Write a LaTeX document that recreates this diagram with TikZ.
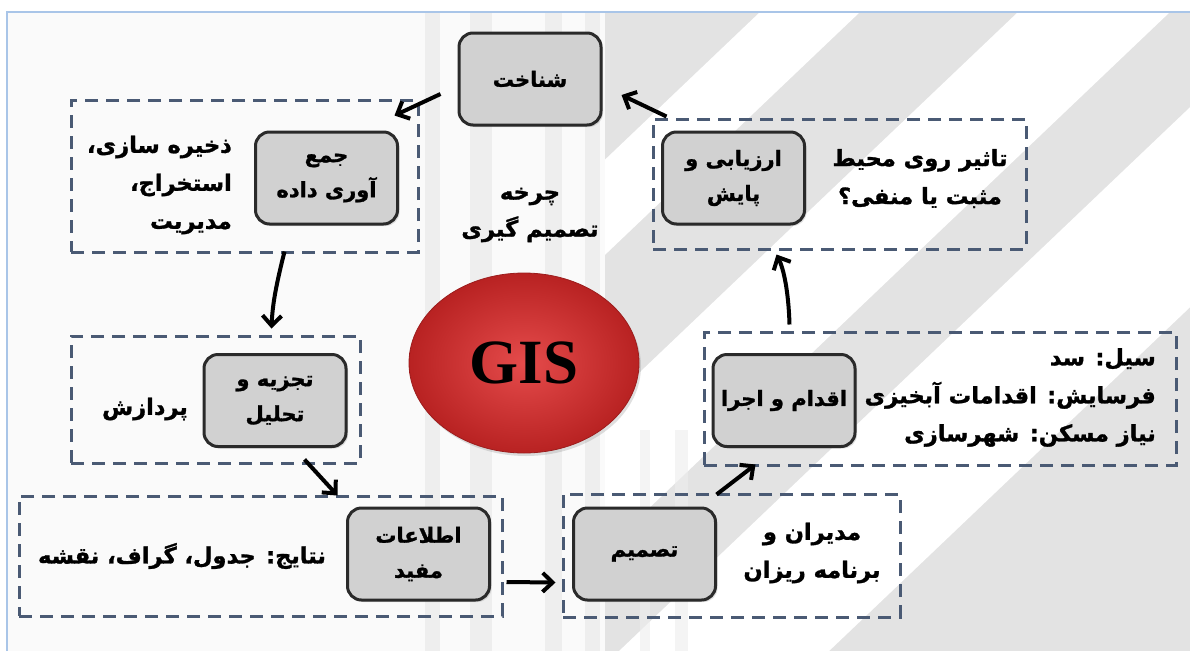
\documentclass[tikz,border=0pt]{standalone}
\usepackage{fontspec}
\usetikzlibrary{arrows.meta,calc,shadows,shapes.geometric}
\TeXXeTstate=1
\setmainfont{Liberation Serif}
\newfontfamily\arabicfont[Script=Arabic, BoldFeatures={FakeBold=1.3}]{DejaVu Sans}
\newcommand{\fa}[1]{{\arabicfont\bfseries\beginR #1\endR}}
\definecolor{dashc}{HTML}{4A5A74}
\definecolor{boxfill}{HTML}{D1D1D1}
\definecolor{boxdraw}{HTML}{2A2A2A}
\definecolor{framec}{HTML}{A9C5E8}
\definecolor{bggray}{HTML}{E3E3E3}
\definecolor{bgstripe}{HTML}{EEEEEE}
\definecolor{gisin}{HTML}{E54B4B}
\definecolor{gisout}{HTML}{B82222}
\tikzset{
  fbox/.style={draw=boxdraw, line width=3pt, fill=boxfill, rounded corners=14pt,
    minimum width=142pt, minimum height=92pt, inner sep=0pt, align=center,
    font=\fontsize{21}{35}\selectfont,
    drop shadow={opacity=0.25, shadow xshift=2pt, shadow yshift=-2pt}},
  dbox/.style={draw=dashc, line width=3pt, dash pattern=on 13pt off 8pt, inner sep=0pt},
  txt/.style={inner sep=0pt, font=\fontsize{22.5}{38}\selectfont},
  arr/.style={draw=black, line width=4pt, -{Straight Barb[length=10pt,width=19pt]}},
}
\begin{document}
\begin{tikzpicture}[x=1pt,y=-1pt]
\useasboundingbox (0,0) rectangle (1190,651);
% background
\fill[white] (0,0) rectangle (1190,651);
\fill[black!2] (7,12) rectangle (605,651);
\foreach \a/\b in {425/440,470/492,545/562,585/600}{\fill[bgstripe] (\a,12) rectangle (\b,651);}
\fill[bggray] (605,12) rectangle (1190,651);
\begin{scope}
  \clip (605,12) rectangle (1190,651);
  \foreach \a/\b in {760/860,1018/1170,1290/1500}{
    \fill[white] (\a,12) -- (\b,12) -- (\b-672,652) -- (\a-672,652) -- cycle;}
\end{scope}
\foreach \a/\b in {640/650,675/688}{\fill[bgstripe,opacity=0.6] (\a,430) rectangle (\b,651);}
\draw[framec, line width=1.5pt] (7,651) -- (7,12) -- (1190,12);
% dashed groups
\node[dbox, minimum width=347pt, minimum height=152pt] (D1) at (244.5,176) {};
\node[dbox, minimum width=373pt, minimum height=130pt] (D2) at (839.5,184) {};
\node[dbox, minimum width=289pt, minimum height=127pt] (D3) at (215.5,399.5) {};
\node[dbox, minimum width=483pt, minimum height=120pt] (D4) at (260.5,556) {};
\node[dbox, minimum width=337pt, minimum height=123pt] (D5) at (731.5,555.5) {};
\node[dbox, minimum width=472pt, minimum height=133pt] (D6) at (940,398.5) {};
% boxes
\node[fbox] (shen) at (530,79) {\fa{شناخت}};
\node[fbox] (jam) at (326.5,178) {\fa{جمع}\\\fa{آوری داده}};
\node[fbox] (arz) at (733.5,178) {\fa{ارزیابی و}\\\fa{پایش}};
\node[fbox] (taj) at (275,400.5) {\fa{تجزیه و}\\\fa{تحلیل}};
\node[fbox] (ett) at (418.5,554) {\fa{اطلاعات}\\\fa{مفید}};
\node[fbox] (tas) at (644.5,554) {\fa{تصمیم}};
\node[fbox] (eqd) at (784,400.5) {\fa{اقدام و اجرا}};
% GIS
\node[ellipse, draw=gisout!85!black, line width=0.8pt, inner color=gisin, outer color=gisout,
  minimum width=230pt, minimum height=180pt, inner sep=0pt,
  font=\fontsize{63}{63}\selectfont\bfseries,
  drop shadow={opacity=0.25, shadow xshift=2pt, shadow yshift=-3pt}] (gis) at (524,363) {GIS};
% texts
\node[txt, align=right, anchor=east] (t1) at (232,185) {\fa{ذخیره سازی،}\\\fa{استخراج،}\\\fa{مدیریت}};
\node[txt, align=center, font=\fontsize{22.5}{37}\selectfont] (t2) at (530,215) {\fa{چرخه}\\\fa{تصمیم گیری}};
\node[txt, align=center] (t3) at (920,178.5) {\fa{تاثیر روی محیط}\\\fa{مثبت یا منفی؟}};
\node[txt] (t4) at (145,409) {\fa{پردازش}};
\node[txt] (t5) at (182,556) {\fa{نتایج: جدول، گراف، نقشه}};
\node[txt, align=center] (t6) at (812,553) {\fa{مدیران و}\\\fa{برنامه ریزان}};
\node[txt, align=right, anchor=east] (t7) at (1156,397.5) {\fa{سیل: سد}\\\fa{فرسایش: اقدامات آبخیزی}\\\fa{نیاز مسکن: شهرسازی}};
% arrows
\draw[arr] ($(shen.west)+(-17,15)$) -- ($(D1.north east)+(-25,17)$);
\draw[arr] ($(D1.south)+(40,-2)$) .. controls ($(D1.south)+(32,30)$) and ($(D1.south)+(28,50)$) .. ($(D3.north)+(56,-6)$);
\draw[arr] ($(D3.south east)+(-57,-5)$) -- ($(D4.north west)+(320,1)$);
\draw[arr] ($(D4.east)+(3,26)$) -- ($(D5.west)+(-6,27)$);
\draw[arr] ($(D5.north west)+(155,2)$) -- ($(D6.south west)+(53,-2)$);
\draw[arr] ($(D6.north west)+(87,-6)$) .. controls ($(D6.north west)+(86,-40)$) and ($(D6.north west)+(81,-62)$) .. ($(D2.south west)+(125,4)$);
\draw[arr] ($(D2.north west)+(15,-1)$) -- ($(shen.east)+(19,16)$);
\end{tikzpicture}
\end{document}
